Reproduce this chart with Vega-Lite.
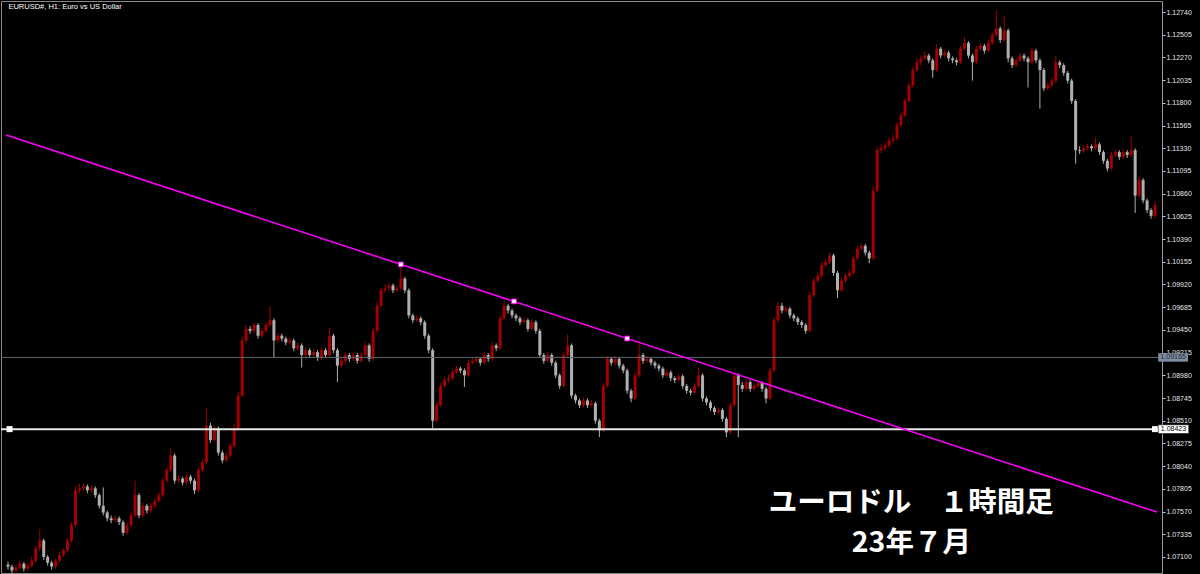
{
  "$schema": "https://vega.github.io/schema/vega-lite/v6.json",
  "width": 1161,
  "height": 572,
  "autosize": {"type": "none"},
  "padding": {"left": 1, "top": 1, "right": 38, "bottom": 1},
  "background": "#000000",
  "config": {"view": {"stroke": "#8a8a8a", "strokeWidth": 1}, "axis": {"grid": false}},
  "resolve": {"axis": {"y": "independent", "x": "independent"}},
  "datasets": {
    "bars": [
      {"t":0,"o":1.0702,"h":1.0705,"l":1.0697,"c":1.0700},
      {"t":1,"o":1.0700,"h":1.0702,"l":1.0692,"c":1.0696},
      {"t":2,"o":1.0696,"h":1.0702,"l":1.0693,"c":1.0699},
      {"t":3,"o":1.0699,"h":1.0706,"l":1.0697,"c":1.0703},
      {"t":4,"o":1.0703,"h":1.0705,"l":1.0695,"c":1.0698},
      {"t":5,"o":1.0698,"h":1.0704,"l":1.0696,"c":1.0701},
      {"t":6,"o":1.0701,"h":1.0710,"l":1.0699,"c":1.0706},
      {"t":7,"o":1.0706,"h":1.0722,"l":1.0704,"c":1.0719},
      {"t":8,"o":1.0719,"h":1.0739,"l":1.0716,"c":1.0727},
      {"t":9,"o":1.0727,"h":1.0729,"l":1.0707,"c":1.0710},
      {"t":10,"o":1.0710,"h":1.0712,"l":1.0701,"c":1.0704},
      {"t":11,"o":1.0704,"h":1.0706,"l":1.0697,"c":1.0700},
      {"t":12,"o":1.0700,"h":1.0708,"l":1.0698,"c":1.0706},
      {"t":13,"o":1.0706,"h":1.0715,"l":1.0704,"c":1.0712},
      {"t":14,"o":1.0712,"h":1.0719,"l":1.0710,"c":1.0717},
      {"t":15,"o":1.0717,"h":1.0730,"l":1.0715,"c":1.0727},
      {"t":16,"o":1.0727,"h":1.0746,"l":1.0725,"c":1.0743},
      {"t":17,"o":1.0743,"h":1.0783,"l":1.0741,"c":1.0779},
      {"t":18,"o":1.0779,"h":1.0786,"l":1.0776,"c":1.0781},
      {"t":19,"o":1.0781,"h":1.0786,"l":1.0778,"c":1.0783},
      {"t":20,"o":1.0783,"h":1.0785,"l":1.0776,"c":1.0779},
      {"t":21,"o":1.0779,"h":1.0784,"l":1.0776,"c":1.0781},
      {"t":22,"o":1.0781,"h":1.0783,"l":1.0771,"c":1.0774},
      {"t":23,"o":1.0774,"h":1.0776,"l":1.0760,"c":1.0763},
      {"t":24,"o":1.0763,"h":1.0782,"l":1.0753,"c":1.0756},
      {"t":25,"o":1.0756,"h":1.0758,"l":1.0747,"c":1.0750},
      {"t":26,"o":1.0750,"h":1.0753,"l":1.0745,"c":1.0748},
      {"t":27,"o":1.0748,"h":1.0753,"l":1.0746,"c":1.0750},
      {"t":28,"o":1.0750,"h":1.0752,"l":1.0743,"c":1.0746},
      {"t":29,"o":1.0746,"h":1.0748,"l":1.0732,"c":1.0735},
      {"t":30,"o":1.0735,"h":1.0746,"l":1.0733,"c":1.0743},
      {"t":31,"o":1.0743,"h":1.0756,"l":1.0741,"c":1.0753},
      {"t":32,"o":1.0753,"h":1.0789,"l":1.0751,"c":1.0774},
      {"t":33,"o":1.0774,"h":1.0776,"l":1.0750,"c":1.0753},
      {"t":34,"o":1.0753,"h":1.0766,"l":1.0751,"c":1.0763},
      {"t":35,"o":1.0763,"h":1.0765,"l":1.0755,"c":1.0758},
      {"t":36,"o":1.0758,"h":1.0766,"l":1.0756,"c":1.0763},
      {"t":37,"o":1.0763,"h":1.0771,"l":1.0761,"c":1.0768},
      {"t":38,"o":1.0768,"h":1.0777,"l":1.0766,"c":1.0774},
      {"t":39,"o":1.0774,"h":1.0792,"l":1.0772,"c":1.0789},
      {"t":40,"o":1.0789,"h":1.0803,"l":1.0787,"c":1.0800},
      {"t":41,"o":1.0800,"h":1.0822,"l":1.0798,"c":1.0815},
      {"t":42,"o":1.0815,"h":1.0817,"l":1.0786,"c":1.0789},
      {"t":43,"o":1.0789,"h":1.0795,"l":1.0786,"c":1.0791},
      {"t":44,"o":1.0791,"h":1.0793,"l":1.0784,"c":1.0787},
      {"t":45,"o":1.0787,"h":1.0796,"l":1.0785,"c":1.0793},
      {"t":46,"o":1.0793,"h":1.0795,"l":1.0786,"c":1.0789},
      {"t":47,"o":1.0789,"h":1.0791,"l":1.0775,"c":1.0779},
      {"t":48,"o":1.0779,"h":1.0803,"l":1.0777,"c":1.0800},
      {"t":49,"o":1.0800,"h":1.0811,"l":1.0798,"c":1.0808},
      {"t":50,"o":1.0808,"h":1.0864,"l":1.0806,"c":1.0846},
      {"t":51,"o":1.0846,"h":1.0849,"l":1.0828,"c":1.0831},
      {"t":52,"o":1.0831,"h":1.0846,"l":1.0829,"c":1.0843},
      {"t":53,"o":1.0843,"h":1.0845,"l":1.0815,"c":1.0818},
      {"t":54,"o":1.0818,"h":1.0820,"l":1.0807,"c":1.0810},
      {"t":55,"o":1.0810,"h":1.0818,"l":1.0808,"c":1.0815},
      {"t":56,"o":1.0815,"h":1.0828,"l":1.0813,"c":1.0825},
      {"t":57,"o":1.0825,"h":1.0848,"l":1.0823,"c":1.0843},
      {"t":58,"o":1.0843,"h":1.0881,"l":1.0841,"c":1.0877},
      {"t":59,"o":1.0877,"h":1.0938,"l":1.0875,"c":1.0934},
      {"t":60,"o":1.0934,"h":1.0950,"l":1.0931,"c":1.0946},
      {"t":61,"o":1.0946,"h":1.0949,"l":1.0941,"c":1.0944},
      {"t":62,"o":1.0944,"h":1.0953,"l":1.0942,"c":1.0950},
      {"t":63,"o":1.0950,"h":1.0952,"l":1.0936,"c":1.0939},
      {"t":64,"o":1.0939,"h":1.0947,"l":1.0937,"c":1.0944},
      {"t":65,"o":1.0944,"h":1.0953,"l":1.0942,"c":1.0950},
      {"t":66,"o":1.0950,"h":1.0970,"l":1.0948,"c":1.0955},
      {"t":67,"o":1.0955,"h":1.0957,"l":1.0916,"c":1.0934},
      {"t":68,"o":1.0934,"h":1.0942,"l":1.0932,"c":1.0939},
      {"t":69,"o":1.0939,"h":1.0941,"l":1.0933,"c":1.0936},
      {"t":70,"o":1.0936,"h":1.0938,"l":1.0929,"c":1.0932},
      {"t":71,"o":1.0932,"h":1.0937,"l":1.0930,"c":1.0934},
      {"t":72,"o":1.0934,"h":1.0936,"l":1.0923,"c":1.0926},
      {"t":73,"o":1.0926,"h":1.0932,"l":1.0924,"c":1.0929},
      {"t":74,"o":1.0929,"h":1.0931,"l":1.0906,"c":1.0919},
      {"t":75,"o":1.0919,"h":1.0927,"l":1.0917,"c":1.0924},
      {"t":76,"o":1.0924,"h":1.0926,"l":1.0916,"c":1.0919},
      {"t":77,"o":1.0919,"h":1.0925,"l":1.0917,"c":1.0922},
      {"t":78,"o":1.0922,"h":1.0924,"l":1.0913,"c":1.0916},
      {"t":79,"o":1.0916,"h":1.0927,"l":1.0914,"c":1.0924},
      {"t":80,"o":1.0924,"h":1.0926,"l":1.0916,"c":1.0919},
      {"t":81,"o":1.0919,"h":1.0947,"l":1.0917,"c":1.0939},
      {"t":82,"o":1.0939,"h":1.0941,"l":1.0921,"c":1.0924},
      {"t":83,"o":1.0924,"h":1.0926,"l":1.0891,"c":1.0908},
      {"t":84,"o":1.0908,"h":1.0916,"l":1.0906,"c":1.0913},
      {"t":85,"o":1.0913,"h":1.0922,"l":1.0911,"c":1.0919},
      {"t":86,"o":1.0919,"h":1.0921,"l":1.0912,"c":1.0915},
      {"t":87,"o":1.0915,"h":1.0922,"l":1.0913,"c":1.0919},
      {"t":88,"o":1.0919,"h":1.0921,"l":1.0910,"c":1.0913},
      {"t":89,"o":1.0913,"h":1.0922,"l":1.0911,"c":1.0919},
      {"t":90,"o":1.0919,"h":1.0932,"l":1.0917,"c":1.0929},
      {"t":91,"o":1.0929,"h":1.0931,"l":1.0912,"c":1.0915},
      {"t":92,"o":1.0915,"h":1.0947,"l":1.0913,"c":1.0944},
      {"t":93,"o":1.0944,"h":1.0974,"l":1.0942,"c":1.0970},
      {"t":94,"o":1.0970,"h":1.0989,"l":1.0968,"c":1.0986},
      {"t":95,"o":1.0986,"h":1.0992,"l":1.0983,"c":1.0988},
      {"t":96,"o":1.0988,"h":1.0994,"l":1.0985,"c":1.0991},
      {"t":97,"o":1.0991,"h":1.0993,"l":1.0983,"c":1.0986},
      {"t":98,"o":1.0986,"h":1.0991,"l":1.0984,"c":1.0988},
      {"t":99,"o":1.0988,"h":1.1012,"l":1.0986,"c":1.0998},
      {"t":100,"o":1.0998,"h":1.1000,"l":1.0983,"c":1.0986},
      {"t":101,"o":1.0986,"h":1.0988,"l":1.0957,"c":1.0960},
      {"t":102,"o":1.0960,"h":1.0962,"l":1.0952,"c":1.0955},
      {"t":103,"o":1.0955,"h":1.0960,"l":1.0953,"c":1.0957},
      {"t":104,"o":1.0957,"h":1.0959,"l":1.0950,"c":1.0953},
      {"t":105,"o":1.0953,"h":1.0955,"l":1.0936,"c":1.0939},
      {"t":106,"o":1.0939,"h":1.0941,"l":1.0921,"c":1.0924},
      {"t":107,"o":1.0924,"h":1.0926,"l":1.0843,"c":1.0851},
      {"t":108,"o":1.0851,"h":1.0870,"l":1.0849,"c":1.0867},
      {"t":109,"o":1.0867,"h":1.0890,"l":1.0865,"c":1.0887},
      {"t":110,"o":1.0887,"h":1.0896,"l":1.0885,"c":1.0893},
      {"t":111,"o":1.0893,"h":1.0899,"l":1.0890,"c":1.0895},
      {"t":112,"o":1.0895,"h":1.0904,"l":1.0893,"c":1.0901},
      {"t":113,"o":1.0901,"h":1.0908,"l":1.0899,"c":1.0905},
      {"t":114,"o":1.0905,"h":1.0907,"l":1.0900,"c":1.0903},
      {"t":115,"o":1.0903,"h":1.0905,"l":1.0886,"c":1.0898},
      {"t":116,"o":1.0898,"h":1.0914,"l":1.0896,"c":1.0911},
      {"t":117,"o":1.0911,"h":1.0916,"l":1.0909,"c":1.0913},
      {"t":118,"o":1.0913,"h":1.0918,"l":1.0911,"c":1.0915},
      {"t":119,"o":1.0915,"h":1.0917,"l":1.0908,"c":1.0911},
      {"t":120,"o":1.0911,"h":1.0922,"l":1.0909,"c":1.0919},
      {"t":121,"o":1.0919,"h":1.0921,"l":1.0912,"c":1.0915},
      {"t":122,"o":1.0915,"h":1.0932,"l":1.0913,"c":1.0929},
      {"t":123,"o":1.0929,"h":1.0931,"l":1.0923,"c":1.0926},
      {"t":124,"o":1.0926,"h":1.0960,"l":1.0924,"c":1.0957},
      {"t":125,"o":1.0957,"h":1.0975,"l":1.0955,"c":1.0970},
      {"t":126,"o":1.0970,"h":1.0972,"l":1.0962,"c":1.0965},
      {"t":127,"o":1.0965,"h":1.0967,"l":1.0957,"c":1.0960},
      {"t":128,"o":1.0960,"h":1.0962,"l":1.0954,"c":1.0957},
      {"t":129,"o":1.0957,"h":1.0959,"l":1.0950,"c":1.0953},
      {"t":130,"o":1.0953,"h":1.0958,"l":1.0951,"c":1.0955},
      {"t":131,"o":1.0955,"h":1.0957,"l":1.0943,"c":1.0946},
      {"t":132,"o":1.0946,"h":1.0956,"l":1.0944,"c":1.0953},
      {"t":133,"o":1.0953,"h":1.0955,"l":1.0941,"c":1.0944},
      {"t":134,"o":1.0944,"h":1.0946,"l":1.0916,"c":1.0919},
      {"t":135,"o":1.0919,"h":1.0921,"l":1.0910,"c":1.0913},
      {"t":136,"o":1.0913,"h":1.0922,"l":1.0911,"c":1.0919},
      {"t":137,"o":1.0919,"h":1.0921,"l":1.0908,"c":1.0911},
      {"t":138,"o":1.0911,"h":1.0913,"l":1.0895,"c":1.0898},
      {"t":139,"o":1.0898,"h":1.0900,"l":1.0884,"c":1.0887},
      {"t":140,"o":1.0887,"h":1.0922,"l":1.0885,"c":1.0919},
      {"t":141,"o":1.0919,"h":1.0940,"l":1.0917,"c":1.0929},
      {"t":142,"o":1.0929,"h":1.0931,"l":1.0874,"c":1.0877},
      {"t":143,"o":1.0877,"h":1.0879,"l":1.0869,"c":1.0872},
      {"t":144,"o":1.0872,"h":1.0874,"l":1.0864,"c":1.0867},
      {"t":145,"o":1.0867,"h":1.0875,"l":1.0865,"c":1.0872},
      {"t":146,"o":1.0872,"h":1.0874,"l":1.0864,"c":1.0867},
      {"t":147,"o":1.0867,"h":1.0872,"l":1.0865,"c":1.0869},
      {"t":148,"o":1.0869,"h":1.0871,"l":1.0848,"c":1.0851},
      {"t":149,"o":1.0851,"h":1.0853,"l":1.0834,"c":1.0841},
      {"t":150,"o":1.0841,"h":1.0890,"l":1.0839,"c":1.0887},
      {"t":151,"o":1.0887,"h":1.0918,"l":1.0885,"c":1.0915},
      {"t":152,"o":1.0915,"h":1.0917,"l":1.0908,"c":1.0911},
      {"t":153,"o":1.0911,"h":1.0918,"l":1.0909,"c":1.0915},
      {"t":154,"o":1.0915,"h":1.0917,"l":1.0905,"c":1.0908},
      {"t":155,"o":1.0908,"h":1.0910,"l":1.0900,"c":1.0903},
      {"t":156,"o":1.0903,"h":1.0905,"l":1.0879,"c":1.0882},
      {"t":157,"o":1.0882,"h":1.0884,"l":1.0870,"c":1.0874},
      {"t":158,"o":1.0874,"h":1.0901,"l":1.0872,"c":1.0898},
      {"t":159,"o":1.0898,"h":1.0934,"l":1.0896,"c":1.0919},
      {"t":160,"o":1.0919,"h":1.0921,"l":1.0910,"c":1.0913},
      {"t":161,"o":1.0913,"h":1.0918,"l":1.0911,"c":1.0915},
      {"t":162,"o":1.0915,"h":1.0917,"l":1.0908,"c":1.0911},
      {"t":163,"o":1.0911,"h":1.0913,"l":1.0905,"c":1.0908},
      {"t":164,"o":1.0908,"h":1.0910,"l":1.0902,"c":1.0905},
      {"t":165,"o":1.0905,"h":1.0907,"l":1.0895,"c":1.0898},
      {"t":166,"o":1.0898,"h":1.0904,"l":1.0896,"c":1.0901},
      {"t":167,"o":1.0901,"h":1.0903,"l":1.0892,"c":1.0895},
      {"t":168,"o":1.0895,"h":1.0897,"l":1.0890,"c":1.0893},
      {"t":169,"o":1.0893,"h":1.0900,"l":1.0891,"c":1.0897},
      {"t":170,"o":1.0897,"h":1.0899,"l":1.0884,"c":1.0887},
      {"t":171,"o":1.0887,"h":1.0889,"l":1.0879,"c":1.0882},
      {"t":172,"o":1.0882,"h":1.0884,"l":1.0877,"c":1.0880},
      {"t":173,"o":1.0880,"h":1.0890,"l":1.0878,"c":1.0887},
      {"t":174,"o":1.0887,"h":1.0906,"l":1.0885,"c":1.0898},
      {"t":175,"o":1.0898,"h":1.0900,"l":1.0871,"c":1.0874},
      {"t":176,"o":1.0874,"h":1.0876,"l":1.0867,"c":1.0870},
      {"t":177,"o":1.0870,"h":1.0872,"l":1.0861,"c":1.0864},
      {"t":178,"o":1.0864,"h":1.0866,"l":1.0857,"c":1.0860},
      {"t":179,"o":1.0860,"h":1.0865,"l":1.0858,"c":1.0862},
      {"t":180,"o":1.0862,"h":1.0864,"l":1.0850,"c":1.0853},
      {"t":181,"o":1.0853,"h":1.0855,"l":1.0834,"c":1.0839},
      {"t":182,"o":1.0839,"h":1.0870,"l":1.0837,"c":1.0867},
      {"t":183,"o":1.0867,"h":1.0901,"l":1.0865,"c":1.0898},
      {"t":184,"o":1.0898,"h":1.0900,"l":1.0834,"c":1.0888},
      {"t":185,"o":1.0888,"h":1.0891,"l":1.0881,"c":1.0884},
      {"t":186,"o":1.0884,"h":1.0894,"l":1.0882,"c":1.0891},
      {"t":187,"o":1.0891,"h":1.0893,"l":1.0881,"c":1.0884},
      {"t":188,"o":1.0884,"h":1.0890,"l":1.0882,"c":1.0887},
      {"t":189,"o":1.0887,"h":1.0893,"l":1.0885,"c":1.0890},
      {"t":190,"o":1.0890,"h":1.0892,"l":1.0881,"c":1.0884},
      {"t":191,"o":1.0884,"h":1.0886,"l":1.0869,"c":1.0874},
      {"t":192,"o":1.0874,"h":1.0906,"l":1.0872,"c":1.0903},
      {"t":193,"o":1.0903,"h":1.0958,"l":1.0901,"c":1.0955},
      {"t":194,"o":1.0955,"h":1.0974,"l":1.0953,"c":1.0970},
      {"t":195,"o":1.0970,"h":1.0973,"l":1.0962,"c":1.0965},
      {"t":196,"o":1.0965,"h":1.0970,"l":1.0963,"c":1.0967},
      {"t":197,"o":1.0967,"h":1.0969,"l":1.0957,"c":1.0960},
      {"t":198,"o":1.0960,"h":1.0962,"l":1.0954,"c":1.0957},
      {"t":199,"o":1.0957,"h":1.0959,"l":1.0950,"c":1.0953},
      {"t":200,"o":1.0953,"h":1.0955,"l":1.0947,"c":1.0950},
      {"t":201,"o":1.0950,"h":1.0952,"l":1.0941,"c":1.0944},
      {"t":202,"o":1.0944,"h":1.0984,"l":1.0942,"c":1.0981},
      {"t":203,"o":1.0981,"h":1.0999,"l":1.0979,"c":1.0996},
      {"t":204,"o":1.0996,"h":1.1004,"l":1.0994,"c":1.1001},
      {"t":205,"o":1.1001,"h":1.1015,"l":1.0999,"c":1.1012},
      {"t":206,"o":1.1012,"h":1.1018,"l":1.1010,"c":1.1015},
      {"t":207,"o":1.1015,"h":1.1025,"l":1.1013,"c":1.1022},
      {"t":208,"o":1.1022,"h":1.1024,"l":1.1001,"c":1.1004},
      {"t":209,"o":1.1004,"h":1.1006,"l":1.0978,"c":1.0986},
      {"t":210,"o":1.0986,"h":1.0999,"l":1.0984,"c":1.0996},
      {"t":211,"o":1.0996,"h":1.1004,"l":1.0994,"c":1.1001},
      {"t":212,"o":1.1001,"h":1.1007,"l":1.0999,"c":1.1004},
      {"t":213,"o":1.1004,"h":1.1022,"l":1.1002,"c":1.1019},
      {"t":214,"o":1.1019,"h":1.1032,"l":1.1017,"c":1.1029},
      {"t":215,"o":1.1029,"h":1.1035,"l":1.1027,"c":1.1032},
      {"t":216,"o":1.1032,"h":1.1034,"l":1.1022,"c":1.1025},
      {"t":217,"o":1.1025,"h":1.1027,"l":1.1014,"c":1.1019},
      {"t":218,"o":1.1019,"h":1.1093,"l":1.1017,"c":1.1089},
      {"t":219,"o":1.1089,"h":1.1135,"l":1.1087,"c":1.1131},
      {"t":220,"o":1.1131,"h":1.1137,"l":1.1128,"c":1.1133},
      {"t":221,"o":1.1133,"h":1.1139,"l":1.1130,"c":1.1136},
      {"t":222,"o":1.1136,"h":1.1144,"l":1.1134,"c":1.1141},
      {"t":223,"o":1.1141,"h":1.1147,"l":1.1138,"c":1.1143},
      {"t":224,"o":1.1143,"h":1.1160,"l":1.1141,"c":1.1157},
      {"t":225,"o":1.1157,"h":1.1170,"l":1.1155,"c":1.1167},
      {"t":226,"o":1.1167,"h":1.1185,"l":1.1165,"c":1.1182},
      {"t":227,"o":1.1182,"h":1.1201,"l":1.1180,"c":1.1198},
      {"t":228,"o":1.1198,"h":1.1217,"l":1.1196,"c":1.1214},
      {"t":229,"o":1.1214,"h":1.1226,"l":1.1212,"c":1.1222},
      {"t":230,"o":1.1222,"h":1.1229,"l":1.1219,"c":1.1226},
      {"t":231,"o":1.1226,"h":1.1233,"l":1.1224,"c":1.1229},
      {"t":232,"o":1.1229,"h":1.1231,"l":1.1221,"c":1.1224},
      {"t":233,"o":1.1224,"h":1.1226,"l":1.1206,"c":1.1214},
      {"t":234,"o":1.1214,"h":1.1241,"l":1.1212,"c":1.1236},
      {"t":235,"o":1.1236,"h":1.1238,"l":1.1226,"c":1.1229},
      {"t":236,"o":1.1229,"h":1.1235,"l":1.1227,"c":1.1232},
      {"t":237,"o":1.1232,"h":1.1234,"l":1.1223,"c":1.1226},
      {"t":238,"o":1.1226,"h":1.1228,"l":1.1221,"c":1.1224},
      {"t":239,"o":1.1224,"h":1.1226,"l":1.1219,"c":1.1222},
      {"t":240,"o":1.1222,"h":1.1239,"l":1.1220,"c":1.1236},
      {"t":241,"o":1.1236,"h":1.1248,"l":1.1234,"c":1.1242},
      {"t":242,"o":1.1242,"h":1.1244,"l":1.1226,"c":1.1229},
      {"t":243,"o":1.1229,"h":1.1231,"l":1.1203,"c":1.1222},
      {"t":244,"o":1.1222,"h":1.1239,"l":1.1220,"c":1.1236},
      {"t":245,"o":1.1236,"h":1.1242,"l":1.1234,"c":1.1239},
      {"t":246,"o":1.1239,"h":1.1241,"l":1.1231,"c":1.1234},
      {"t":247,"o":1.1234,"h":1.1245,"l":1.1232,"c":1.1242},
      {"t":248,"o":1.1242,"h":1.1253,"l":1.1240,"c":1.1250},
      {"t":249,"o":1.1250,"h":1.1276,"l":1.1248,"c":1.1257},
      {"t":250,"o":1.1257,"h":1.1259,"l":1.1242,"c":1.1245},
      {"t":251,"o":1.1245,"h":1.1270,"l":1.1243,"c":1.1255},
      {"t":252,"o":1.1255,"h":1.1257,"l":1.1222,"c":1.1226},
      {"t":253,"o":1.1226,"h":1.1228,"l":1.1216,"c":1.1219},
      {"t":254,"o":1.1219,"h":1.1227,"l":1.1217,"c":1.1224},
      {"t":255,"o":1.1224,"h":1.1232,"l":1.1222,"c":1.1229},
      {"t":256,"o":1.1229,"h":1.1231,"l":1.1223,"c":1.1226},
      {"t":257,"o":1.1226,"h":1.1228,"l":1.1196,"c":1.1222},
      {"t":258,"o":1.1222,"h":1.1237,"l":1.1220,"c":1.1234},
      {"t":259,"o":1.1234,"h":1.1236,"l":1.1221,"c":1.1224},
      {"t":260,"o":1.1224,"h":1.1226,"l":1.1174,"c":1.1214},
      {"t":261,"o":1.1214,"h":1.1216,"l":1.1192,"c":1.1195},
      {"t":262,"o":1.1195,"h":1.1201,"l":1.1193,"c":1.1198},
      {"t":263,"o":1.1198,"h":1.1206,"l":1.1196,"c":1.1203},
      {"t":264,"o":1.1203,"h":1.1229,"l":1.1201,"c":1.1222},
      {"t":265,"o":1.1222,"h":1.1224,"l":1.1216,"c":1.1219},
      {"t":266,"o":1.1219,"h":1.1221,"l":1.1208,"c":1.1211},
      {"t":267,"o":1.1211,"h":1.1213,"l":1.1200,"c":1.1203},
      {"t":268,"o":1.1203,"h":1.1205,"l":1.1179,"c":1.1182},
      {"t":269,"o":1.1182,"h":1.1184,"l":1.1117,"c":1.1131},
      {"t":270,"o":1.1131,"h":1.1135,"l":1.1127,"c":1.1130},
      {"t":271,"o":1.1130,"h":1.1136,"l":1.1128,"c":1.1133},
      {"t":272,"o":1.1133,"h":1.1138,"l":1.1131,"c":1.1135},
      {"t":273,"o":1.1135,"h":1.1137,"l":1.1130,"c":1.1133},
      {"t":274,"o":1.1133,"h":1.1144,"l":1.1131,"c":1.1137},
      {"t":275,"o":1.1137,"h":1.1139,"l":1.1126,"c":1.1129},
      {"t":276,"o":1.1129,"h":1.1131,"l":1.1117,"c":1.1120},
      {"t":277,"o":1.1120,"h":1.1122,"l":1.1109,"c":1.1112},
      {"t":278,"o":1.1112,"h":1.1129,"l":1.1110,"c":1.1126},
      {"t":279,"o":1.1126,"h":1.1132,"l":1.1124,"c":1.1129},
      {"t":280,"o":1.1129,"h":1.1131,"l":1.1121,"c":1.1124},
      {"t":281,"o":1.1124,"h":1.1132,"l":1.1122,"c":1.1129},
      {"t":282,"o":1.1129,"h":1.1131,"l":1.1123,"c":1.1126},
      {"t":283,"o":1.1126,"h":1.1146,"l":1.1124,"c":1.1131},
      {"t":284,"o":1.1131,"h":1.1133,"l":1.1066,"c":1.1084},
      {"t":285,"o":1.1084,"h":1.1103,"l":1.1082,"c":1.1100},
      {"t":286,"o":1.1100,"h":1.1102,"l":1.1076,"c":1.1079},
      {"t":287,"o":1.1079,"h":1.1081,"l":1.1066,"c":1.1069},
      {"t":288,"o":1.1069,"h":1.1071,"l":1.1060,"c":1.1063},
      {"t":289,"o":1.1063,"h":1.1078,"l":1.1061,"c":1.1074}
    ]
  },
  "layer": [
    {
      "data": {"name": "bars"},
      "mark": {"type": "rule", "strokeWidth": 1},
      "encoding": {
        "x": {"field": "t", "type": "quantitative", "scale": {"domain": [-0.5, 289.5], "nice": false, "zero": false}, "axis": null},
        "y": {"field": "l", "type": "quantitative", "scale": {"domain": [1.06934, 1.12854], "nice": false, "zero": false},
          "axis": {"orient": "right", "title": null, "grid": false,
            "values": [1.071, 1.07335, 1.0757, 1.07805, 1.0804, 1.08275, 1.0851, 1.08745, 1.0898, 1.09215, 1.0945, 1.09685, 1.0992, 1.10155, 1.1039, 1.10625, 1.1086, 1.11095, 1.1133, 1.11565, 1.118, 1.12035, 1.1227, 1.12505, 1.1274],
            "format": ".5f", "domain": true, "domainColor": "#9a9a9a", "domainWidth": 1, "ticks": true, "tickColor": "#c8c8c8", "tickSize": 3, "tickWidth": 1,
            "labels": true, "labelColor": "#e8e8e8", "labelFont": "Liberation Sans", "labelFontSize": 7, "labelPadding": 1, "labelBaseline": "middle",
            "labelOverlap": false, "labelFlush": false, "labelBound": false, "zindex": 0}},
        "y2": {"field": "h"},
        "color": {"condition": {"test": "datum.c >= datum.o", "value": "#a30000"}, "value": "#b0b0b0"}
      }
    },
    {
      "data": {"name": "bars"},
      "mark": {"type": "bar", "size": 3},
      "encoding": {
        "x": {"field": "t", "type": "quantitative", "scale": {"domain": [-0.5, 289.5], "nice": false, "zero": false}, "axis": null},
        "y": {"field": "o", "type": "quantitative", "scale": {"domain": [1.06934, 1.12854], "nice": false, "zero": false}, "axis": null},
        "y2": {"field": "c"},
        "color": {"condition": {"test": "datum.c >= datum.o", "value": "#a30000"}, "value": "#b0b0b0"}
      }
    },
    {
      "data": {"values": [{"p": 1.09165}]},
      "mark": {"type": "rule", "color": "#5c6670", "strokeWidth": 1},
      "encoding": {
        "y": {"field": "p", "type": "quantitative", "scale": {"domain": [1.06934, 1.12854], "nice": false, "zero": false}, "axis": null}
      }
    },
    {
      "data": {"values": [{"p": 1.08423}]},
      "mark": {"type": "rule", "color": "#e6e6e6", "strokeWidth": 2},
      "encoding": {
        "y": {"field": "p", "type": "quantitative", "scale": {"domain": [1.06934, 1.12854], "nice": false, "zero": false}, "axis": null}
      }
    },
    {
      "data": {"values": [{"t": -0.5, "p": 1.11467}, {"t": 289.5, "p": 1.07565}]},
      "mark": {"type": "line", "color": "#ff00ff", "strokeWidth": 1.5},
      "encoding": {
        "x": {"field": "t", "type": "quantitative", "scale": {"domain": [-0.5, 289.5], "nice": false, "zero": false}, "axis": null},
        "y": {"field": "p", "type": "quantitative", "scale": {"domain": [1.06934, 1.12854], "nice": false, "zero": false}, "axis": null}
      }
    },
    {
      "data": {"values": [{"t": 99, "p": 1.10128}, {"t": 127.5, "p": 1.09745}, {"t": 156, "p": 1.09361}]},
      "mark": {"type": "point", "shape": "square", "size": 22, "filled": true, "fill": "#ffffff", "stroke": "#ff00ff", "strokeWidth": 1, "opacity": 1},
      "encoding": {
        "x": {"field": "t", "type": "quantitative", "scale": {"domain": [-0.5, 289.5], "nice": false, "zero": false}, "axis": null},
        "y": {"field": "p", "type": "quantitative", "scale": {"domain": [1.06934, 1.12854], "nice": false, "zero": false}, "axis": null}
      }
    },
    {
      "data": {"values": [{"t": 0.4, "p": 1.08423}, {"t": 289.0, "p": 1.08423}]},
      "mark": {"type": "point", "shape": "square", "size": 36, "filled": true, "color": "#ffffff", "opacity": 1},
      "encoding": {
        "x": {"field": "t", "type": "quantitative", "scale": {"domain": [-0.5, 289.5], "nice": false, "zero": false}, "axis": null},
        "y": {"field": "p", "type": "quantitative", "scale": {"domain": [1.06934, 1.12854], "nice": false, "zero": false}, "axis": null}
      }
    },
    {
      "data": {"values": [{"t1": 289.8, "t2": 297.3, "p1": 1.09121, "p2": 1.09209}]},
      "mark": {"type": "rect", "fill": "#7d8ea2"},
      "encoding": {
        "x": {"field": "t1", "type": "quantitative", "scale": {"domain": [-0.5, 289.5], "nice": false, "zero": false}, "axis": null},
        "x2": {"field": "t2"},
        "y": {"field": "p1", "type": "quantitative", "scale": {"domain": [1.06934, 1.12854], "nice": false, "zero": false}, "axis": null},
        "y2": {"field": "p2"}
      }
    },
    {
      "data": {"values": [{"t1": 289.8, "t2": 297.5, "p1": 1.08378, "p2": 1.08468}]},
      "mark": {"type": "rect", "fill": "#ffffff", "stroke": "#000000", "strokeWidth": 0.5},
      "encoding": {
        "x": {"field": "t1", "type": "quantitative", "scale": {"domain": [-0.5, 289.5], "nice": false, "zero": false}, "axis": null},
        "x2": {"field": "t2"},
        "y": {"field": "p1", "type": "quantitative", "scale": {"domain": [1.06934, 1.12854], "nice": false, "zero": false}, "axis": null},
        "y2": {"field": "p2"}
      }
    },
    {
      "data": {"values": [{"t": 293.55, "p": 1.09165, "label": "1.09165"}]},
      "mark": {"type": "text", "font": "Liberation Sans", "fontSize": 7, "color": "#1c2631", "align": "center", "baseline": "middle"},
      "encoding": {
        "x": {"field": "t", "type": "quantitative", "scale": {"domain": [-0.5, 289.5], "nice": false, "zero": false}, "axis": null},
        "y": {"field": "p", "type": "quantitative", "scale": {"domain": [1.06934, 1.12854], "nice": false, "zero": false}, "axis": null},
        "text": {"field": "label"}
      }
    },
    {
      "data": {"values": [{"t": 293.65, "p": 1.08423, "label": "1.08423"}]},
      "mark": {"type": "text", "font": "Liberation Sans", "fontSize": 7, "color": "#000000", "align": "center", "baseline": "middle"},
      "encoding": {
        "x": {"field": "t", "type": "quantitative", "scale": {"domain": [-0.5, 289.5], "nice": false, "zero": false}, "axis": null},
        "y": {"field": "p", "type": "quantitative", "scale": {"domain": [1.06934, 1.12854], "nice": false, "zero": false}, "axis": null},
        "text": {"field": "label"}
      }
    },
    {
      "data": {"values": [{"t": 0.1, "p": 1.12792, "label": "EURUSD#, H1:  Euro vs US Dollar"}]},
      "mark": {"type": "text", "font": "Liberation Sans", "fontSize": 7.5, "color": "#ffffff", "align": "left", "baseline": "middle"},
      "encoding": {
        "x": {"field": "t", "type": "quantitative", "scale": {"domain": [-0.5, 289.5], "nice": false, "zero": false}, "axis": null},
        "y": {"field": "p", "type": "quantitative", "scale": {"domain": [1.06934, 1.12854], "nice": false, "zero": false}, "axis": null},
        "text": {"field": "label"}
      }
    },
    {
      "data": {"values": [{"t": 227.6, "p": 1.07659, "label": "ユーロドル　１時間足"}, {"t": 227.6, "p": 1.07245, "label": "23年７月"}]},
      "mark": {"type": "text", "font": "Noto Sans CJK JP", "fontWeight": "bold", "fontSize": 28.5, "color": "#ffffff", "align": "center", "baseline": "middle"},
      "encoding": {
        "x": {"field": "t", "type": "quantitative", "scale": {"domain": [-0.5, 289.5], "nice": false, "zero": false}, "axis": null},
        "y": {"field": "p", "type": "quantitative", "scale": {"domain": [1.06934, 1.12854], "nice": false, "zero": false}, "axis": null},
        "text": {"field": "label"}
      }
    }
  ]
}
